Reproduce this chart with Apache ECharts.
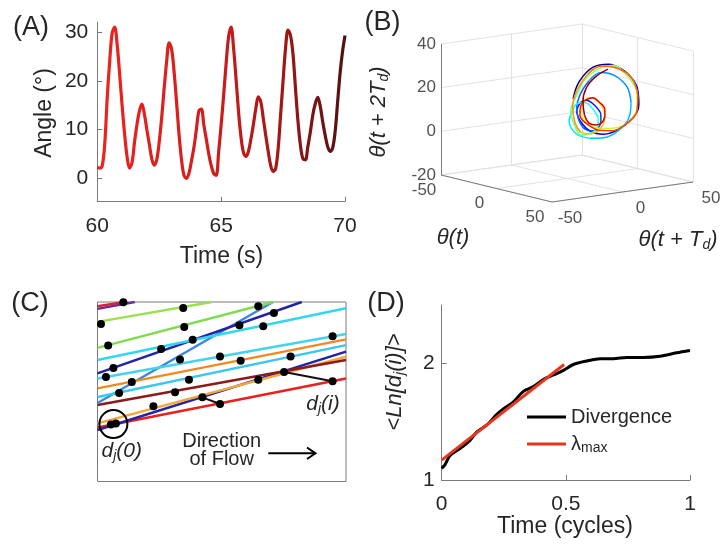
<!DOCTYPE html>
<html><head><meta charset="utf-8">
<script src="https://cdn.jsdelivr.net/npm/echarts@6/dist/echarts.min.js"></script>
<style>html,body{margin:0;padding:0;background:#fff}#c{width:722px;height:550px}</style>
</head><body><div id="c"></div>
<script>
// ---------- Panel A : angle time series (sampled every 0.1 s) ----------
const aTimeStart = 60;
const aTimeStep = 0.1;
const aAngle = [2.2,2.1,2.6,7.0,16.5,24.0,29.8,31.0,27.5,21.5,
  15.0,9.2,4.5,2.1,3.2,7.3,11.0,13.8,15.2,13.2,
  10.0,7.0,4.0,2.7,3.8,7.5,12.5,18.5,24.0,27.8,
  26.5,21.9,15.6,9.0,3.8,0.6,0.0,1.0,3.5,6.3,
  10.0,13.8,14.2,11.0,8.0,5.0,2.6,1.0,0.6,5.5,
  11.0,17.0,23.5,29.0,31.0,26.8,20.5,13.8,8.5,5.3,
  4.5,5.5,8.0,11.0,14.3,16.7,15.7,12.3,8.8,5.5,
  2.6,1.4,2.0,6.0,13.0,20.0,26.7,30.4,29.3,25.5,
  18.5,11.8,6.8,4.0,3.8,6.5,9.5,13.0,15.3,16.6,
  14.8,11.6,8.8,6.5,5.5,6.2,9.5,15.5,21.5,26.0,29.3];
const aXTicks = [60, 65, 70];
const aYTicks = [0, 10, 20, 30];

// ---------- Panel B : delay embedding of the same signal ----------
const bDelaySamples = 2;            // T_d = 0.2 s
const bThetaTicks = [-50, 0, 50];
const bZTicks = [-20, 0, 20, 40];

// ---------- Panel C : schematic trajectories (units 0..100 of the box) ----------
const cLineColors = ['#e8201e','#2323a8','#f2a93b','#8b1a1a','#3a86e0','#3cc8ee','#f08a20','#45d2f0','#2323a8','#33d6f0','#7fdc52','#9be052','#6a2aa0','#d42038'];
const cLineStart = [[0,30.1],[0,28.7],[0,32.4],[0,42.6],[0,43.7],[0,47.1],[0,51.9],[0,57.4],[0,60.3],[0,67.7],[0,74.4],[0,88.9],[0,96.2],[0,97.6]];
const cLineEnd   = [[100,57.4],[100,72.3],[100,69.5],[100,67.7],[70.6,100],[100,76.0],[100,79.2],[100,82.2],[82.2,100],[100,96.5],[70.7,100],[46.1,100],[15,100],[11,100]];
const cDots = [[1.4,87.7],[4.3,75.7],[34.5,96.7],[34.9,86.1],[38.3,79.0],[25.6,73.8],[6.4,63.2],[33.2,67.9],[3.4,58.2],[13.8,55.4],[36.8,56.7],[31.2,49.7],[8.7,49.3],[22.5,41.9],[5.4,31.8],[7.4,32.3],[42.2,46.9],[49.3,43.2],[64.7,97.6],[71.0,93.9],[57.1,87.0],[66.7,86.5],[94.6,80.9],[49.3,69.7],[57.6,67.3],[77.7,69.7],[64.7,56.7],[75.1,61.0],[94.6,55.8],[10.4,99.8]];
const cSeparations = [[[42.2,46.9],[49.3,43.2]], [[75.1,61.0],[94.6,55.8]]];
const cCircleCenter = [6.4, 32.0];

// ---------- Panel D : divergence ----------
const dTime = [0,0.013,0.034,0.074,0.114,0.141,0.181,0.221,0.248,0.289,0.329,0.369,0.409,0.450,0.490,0.530,0.584,0.638,0.691,0.745,0.812,0.879,0.946,1.0];
const dDivergence = [1.10,1.13,1.21,1.27,1.34,1.41,1.47,1.56,1.61,1.67,1.76,1.80,1.86,1.90,1.94,1.99,2.02,2.04,2.04,2.05,2.05,2.06,2.09,2.11];
const dFitTime = [0, 0.493];
const dFitValue = [1.17, 1.99];
const dXTicks = [0, 0.5, 1];
const dYTicks = [1, 2];

// =====================================================================
const FONT = '"Liberation Sans", Arial, Helvetica, sans-serif';
const TXT = '#262626';
const AX = '#7a7a7a';
const chart = echarts.init(document.getElementById('c'), null, {renderer:'canvas'});

const aData = aAngle.map((v,i)=>[+(aTimeStart + aTimeStep*i).toFixed(1), v]);

// 3D projection for panel B (box layout in page pixels)
const tMin = bThetaTicks[0], tMax = bThetaTicks[bThetaTicks.length-1];
const zMin = bZTicks[0], zMax = bZTicks[bZTicks.length-1];
function proj(t1, t2, z){
  const u=(t1-tMin)/(tMax-tMin), v=(t2-tMin)/(tMax-tMin), w=(z-zMin)/(zMax-zMin);
  return [441 + 111*u + 141*v, 175 + 27*u - 20*v - 131*w];
}
function jet(x){
  const c = t=>Math.max(0,Math.min(1,t));
  const r=c(1.5-Math.abs(4*x-3)), g=c(1.5-Math.abs(4*x-2)), b=c(1.5-Math.abs(4*x-1));
  return 'rgb('+Math.round(r*255)+','+Math.round(g*255)+','+Math.round(b*255)+')';
}
const series = [];
// A
series.push({type:'line', xAxisIndex:0, yAxisIndex:0, data:aData, showSymbol:false, smooth:0.35,
  lineStyle:{width:3.2, color:new echarts.graphic.LinearGradient(0,0,1,0,[{offset:0,color:'#ec2420'},{offset:0.45,color:'#d41d1c'},{offset:0.75,color:'#a01616'},{offset:1,color:'#4e1111'}])}, silent:true, z:3});

// B grid lines
const gridSegs = [];
bThetaTicks.forEach(t=>{ gridSegs.push([proj(tMin,t,zMin),proj(tMin,t,zMax)]); gridSegs.push([proj(t,tMax,zMin),proj(t,tMax,zMax)]);
  gridSegs.push([proj(t,tMin,zMin),proj(t,tMax,zMin)]); gridSegs.push([proj(tMin,t,zMin),proj(tMax,t,zMin)]); });
bZTicks.forEach(z=>{ gridSegs.push([proj(tMin,tMin,z),proj(tMin,tMax,z)]); gridSegs.push([proj(tMin,tMax,z),proj(tMax,tMax,z)]); });
series.push({type:'lines', coordinateSystem:'cartesian2d', xAxisIndex:1, yAxisIndex:1, silent:true, z:1,
  data:gridSegs.map(s=>({coords:s})), lineStyle:{color:'#e2e2e2', width:1, opacity:1}});
const axisSegs = [[proj(tMin,tMin,zMin),proj(tMin,tMin,zMax)],[proj(tMin,tMin,zMin),proj(tMax,tMin,zMin)],[proj(tMax,tMin,zMin),proj(tMax,tMax,zMin)]];
series.push({type:'lines', coordinateSystem:'cartesian2d', xAxisIndex:1, yAxisIndex:1, silent:true, z:2,
  data:axisSegs.map(s=>({coords:s})), lineStyle:{color:AX, width:1, opacity:1}});
// B loops
const emb = [];
for (let i=0;i+2*bDelaySamples<aAngle.length;i++) emb.push(proj(aAngle[i], aAngle[i+bDelaySamples], aAngle[i+2*bDelaySamples]));
const CH = 4;
for (let s=0; s<emb.length-1; s+=CH){
  const pts = emb.slice(s, Math.min(emb.length, s+CH+1));
  series.push({type:'line', xAxisIndex:1, yAxisIndex:1, data:pts, showSymbol:false, smooth:0.4, silent:true, z:4,
    lineStyle:{width:1.5, color:jet((s+CH/2)/(emb.length-1))}});
}
// B tick labels
const lblStyle = {show:true, fontSize:17, color:TXT, fontFamily:FONT};
series.push({type:'scatter', xAxisIndex:1, yAxisIndex:1, symbolSize:0, silent:true,
  data:bZTicks.map(z=>({value:proj(tMin,tMin,z), label:{...lblStyle, position:'left', distance:5, formatter:String(z)}}))});
series.push({type:'scatter', xAxisIndex:1, yAxisIndex:1, symbolSize:0, silent:true,
  data:bThetaTicks.map(t=>{const p=proj(t,tMin,zMin); return {value:[p[0]-17,p[1]+15], label:{...lblStyle, position:'inside', formatter:String(t)}};})});
series.push({type:'scatter', xAxisIndex:1, yAxisIndex:1, symbolSize:0, silent:true,
  data:bThetaTicks.map(t=>{const p=proj(tMax,t,zMin); return {value:[p[0]+18,p[1]+16], label:{...lblStyle, position:'inside', formatter:String(t)}};})});

// C lines
cLineColors.forEach((col,i)=>{
  series.push({type:'line', xAxisIndex:2, yAxisIndex:2, data:[cLineStart[i], cLineEnd[i]], showSymbol:false, silent:true, z:3,
    lineStyle:{color:col, width:2.4}});
});
cSeparations.forEach(seg=>series.push({type:'line', xAxisIndex:2, yAxisIndex:2, data:seg, showSymbol:false, silent:true, z:4, lineStyle:{color:'#111', width:2}}));
series.push({type:'scatter', xAxisIndex:2, yAxisIndex:2, data:cDots, symbolSize:8, itemStyle:{color:'#000', opacity:1}, silent:true, z:5});
series.push({type:'scatter', xAxisIndex:2, yAxisIndex:2, data:[cCircleCenter], symbolSize:28, itemStyle:{color:'rgba(0,0,0,0)', borderColor:'#000', borderWidth:2, opacity:1}, silent:true, z:6});

// D
series.push({type:'line', name:'Divergence', xAxisIndex:3, yAxisIndex:3, data:dTime.map((t,i)=>[t,dDivergence[i]]), showSymbol:false, smooth:0.3, lineStyle:{color:'#000', width:3}, itemStyle:{color:'#000'}, silent:true, z:3});
series.push({type:'line', name:'λmax', xAxisIndex:3, yAxisIndex:3, data:dFitTime.map((t,i)=>[t,dFitValue[i]]), showSymbol:false, lineStyle:{color:'#e8351e', width:3}, itemStyle:{color:'#e8351e'}, silent:true, z:4});

const axLabel = {fontSize:21, color:TXT, fontFamily:FONT};
function valAxis(grid, min, max, ticks, pos, extra){
  return Object.assign({type:'value', gridIndex:grid, min, max, position:pos,
    axisLine:{show:true, onZero:false, lineStyle:{color:AX, width:1}},
    axisTick:{show:true, inside:true, length:5, lineStyle:{color:AX}, customValues:ticks},
    axisLabel:Object.assign({customValues:ticks}, axLabel),
    splitLine:{show:false}}, extra||{});
}
const hidden = (g,min,max,inv)=>({type:'value', gridIndex:g, min, max, inverse:!!inv, show:false, splitLine:{show:false}});

const txt = (text,x,y,size,opts)=>Object.assign({type:'text', x, y, silent:true,
  style:Object.assign({text, fontSize:size, fontFamily:FONT, fill:TXT, align:'center', verticalAlign:'middle', textAlign:'center', textVerticalAlign:'middle'}, (opts&&opts.style)||{})},
  (opts&&opts.el)||{});
const sub = (size)=>({a:{fontSize:size,fontStyle:'italic',fontFamily:FONT,fill:TXT}, b:{fontSize:14,fontStyle:'italic',fontFamily:FONT,fill:TXT,verticalAlign:'bottom',padding:[10,0,0,0]}});

const option = {
  animation:false,
  backgroundColor:'#fff',
  textStyle:{fontFamily:FONT},
  grid:[
    {left:97.3, top:22.3, width:247.7, height:179.4},
    {left:0, top:0, width:722, height:550},
    {left:97.5, top:302, width:248.5, height:179.5, show:true, borderColor:AX, borderWidth:1, backgroundColor:'rgba(0,0,0,0)'},
    {left:441.7, top:305, width:248.3, height:175}
  ],
  xAxis:[
    valAxis(0,60,70,aXTicks,'bottom',{axisLabel:Object.assign({customValues:aXTicks, margin:14}, axLabel)}),
    hidden(1,0,722),
    hidden(2,0,100),
    valAxis(3,0,1,dXTicks,'bottom',{axisLabel:Object.assign({customValues:dXTicks, margin:14}, axLabel)})
  ],
  yAxis:[
    valAxis(0,-4.8,32,aYTicks,'left',{axisLabel:Object.assign({customValues:aYTicks, margin:9}, axLabel)}),
    hidden(1,0,550,true),
    hidden(2,0,100),
    valAxis(3,1,2.5,dYTicks,'left',{axisLabel:Object.assign({customValues:dYTicks, margin:7}, axLabel)})
  ],
  legend:{data:['Divergence','λmax'], left:522, top:402, orient:'vertical', itemWidth:39, itemHeight:3, itemGap:7, icon:'rect',
    textStyle:{fontSize:20, color:TXT, fontFamily:FONT, rich:{l:{fontSize:20, color:TXT, fontFamily:FONT}, s:{fontSize:14, color:TXT, fontFamily:FONT, verticalAlign:'bottom', padding:[9,0,0,0]}}},
    formatter:n=> n==='λmax' ? '{l|λ}{s|max}' : n, selectedMode:false},
  series,
  graphic:[
    txt('(A)',31,28,27), txt('(B)',382.5,22.5,27), txt('(C)',30,304,27), txt('(D)',386,304,27),
    txt('Time (s)',221.5,257,23),
    txt('Angle (°)',45,113,23,{el:{rotation:Math.PI/2}}),
    txt('Time (cycles)',565,527,23),
    txt('{a|<Ln[d}{b|j}{a|(i)]>}',395,382,22,{el:{rotation:Math.PI/2}, style:{rich:sub(22)}}),
    txt('{a|θ(t + 2T}{b|d}{a|)}',379,112,22,{el:{rotation:Math.PI/2}, style:{rich:sub(22)}}),
    txt('θ(t)',453,238,22,{style:{fontStyle:'italic'}}),
    txt('{a|θ(t + T}{b|d}{a|)}',678,240,22,{style:{rich:sub(22)}}),
    txt('{a|d}{b|j}{a|(0)}',121.7,451,21,{style:{rich:sub(21)}}),
    txt('{a|d}{b|j}{a|(i)}',323,404,21,{style:{rich:sub(21)}}),
    txt('Direction',221.7,441,20), txt('of Flow',221.7,459,20),
    {type:'polyline', silent:true, shape:{points:[[268.3,453.3],[315,453.3]]}, style:{stroke:'#000', lineWidth:2, fill:null}},
    {type:'polyline', silent:true, shape:{points:[[307,447.5],[315.5,453.3],[307,459]]}, style:{stroke:'#000', lineWidth:2, fill:null}}
  ]
};
chart.setOption(option);
</script></body></html>
